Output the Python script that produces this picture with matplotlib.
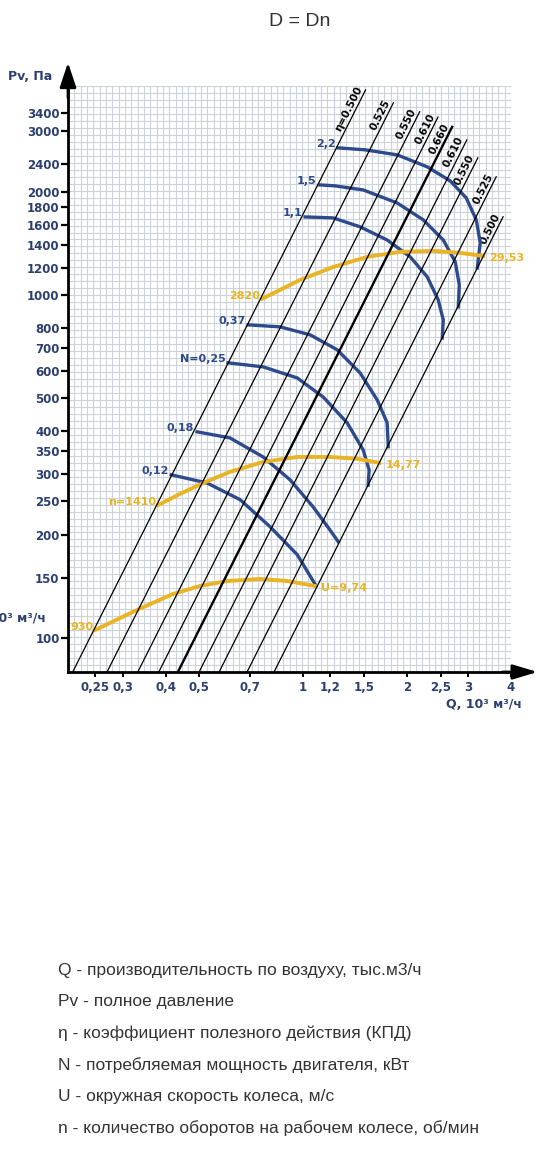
import numpy as np
import matplotlib.pyplot as plt

W, H = 551, 1176
NAVY = '#2c3f70'
BLUE = '#2d4a8c'
GOLD = '#e9b424'

# efficiency lines P = k*Q^2, given by Q at 100 Pa and the top end pressure
eta_labels = ['η=0.500', '0.525', '0.550', '0.610', '0.660', '0.610', '0.550', '0.525', '0.500']
eta_q100 = [0.241, 0.303, 0.372, 0.428, 0.486, 0.560, 0.640, 0.771, 0.923]
eta_ptop = [3960, 3630, 3420, 3300, 3090, 2830, 2510, 2210, 1690]

# motor power curves N, kW
n_labels = ['2,2', '1,5', '1,1', '0,37', 'N=0,25', '0,18', '0,12']
n22_q = [1.263, 1.512, 1.872, 2.288, 2.668, 2.967, 3.173, 3.258, 3.194]
n22_p = [2683, 2648, 2560, 2362, 2149, 1918, 1655, 1418, 1199]
n15_q = [1.113, 1.238, 1.493, 1.872, 2.228, 2.546, 2.758, 2.833, 2.814]
n15_p = [2093, 2079, 2023, 1854, 1655, 1446, 1248, 1070, 923]
n11_q = [1.013, 1.222, 1.463, 1.751, 2.042, 2.288, 2.462, 2.546, 2.529]
n11_p = [1688, 1677, 1579, 1446, 1291, 1129, 967, 846, 749]
n037_q = [0.693, 0.858, 1.048, 1.255, 1.463, 1.639, 1.751, 1.764]
n037_p = [818, 807, 765, 692, 592, 494, 424, 361]
n025_q = [0.606, 0.766, 0.961, 1.143, 1.341, 1.493, 1.553, 1.543]
n025_p = [634, 617, 573, 504, 424, 353, 309, 279]
n018_q = [0.493, 0.614, 0.766, 0.917, 1.069, 1.198, 1.263]
n018_p = [399, 383, 337, 289, 241, 206, 191]
n012_q = [0.415, 0.527, 0.657, 0.802, 0.961, 1.090]
n012_p = [299, 283, 253, 211, 175, 142]

# fan curves at n = 930 / 1410 / 2820 rpm
fan_start = ['930', 'n=1410', '2820']
fan_end = ['U=9,74', '14,77', '29,53']
f930_q = [0.250, 0.330, 0.420, 0.503, 0.602, 0.750, 0.899, 1.083]
f930_p = [105.5, 120.7, 134.4, 141.8, 146.6, 148.6, 146.6, 141.8]
f1410_q = [0.380, 0.440, 0.513, 0.614, 0.766, 0.961, 1.198, 1.434, 1.661]
f1410_p = [244, 263, 283, 305, 326, 337, 337, 333, 324]
f2820_q = [0.760, 0.980, 1.222, 1.533, 1.910, 2.381, 2.852, 3.325]
f2820_p = [974, 1106, 1206, 1291, 1335, 1344, 1326, 1299]

y_ticks = [100, 150, 200, 250, 300, 350, 400, 500, 600, 700, 800, 1000,
           1200, 1400, 1600, 1800, 2000, 2400, 3000, 3400]
x_ticks = [0.25, 0.3, 0.4, 0.5, 0.7, 1, 1.2, 1.5, 2, 2.5, 3, 4]
x_tick_labels = ['0,25', '0,3', '0,4', '0,5', '0,7', '1', '1,2', '1,5', '2', '2,5', '3', '4']

legend_lines = [
    'Q - производительность по воздуху, тыс.м3/ч',
    'Pv - полное давление',
    'η - коэффициент полезного действия (КПД)',
    'N - потребляемая мощность двигателя, кВт',
    'U - окружная скорость колеса, м/с',
    'n - количество оборотов на рабочем колесе, об/мин',
]

plt.rcParams['font.family'] = ['DejaVu Sans']
NARROW = ['Liberation Sans', 'DejaVu Sans']

fig = plt.figure(figsize=(W / 100, H / 100), dpi=100)
rect = [68 / W, 1 - 672 / H, 443 / W, 586 / H]

# graph paper background
bg = fig.add_axes(rect, zorder=0)
bg.set_xlim(0, 70)
bg.set_ylim(0, 84)
bg.set_xticks(np.arange(0, 71))
bg.set_yticks(np.arange(0, 85))
bg.grid(True, color='#cdd3dc', lw=0.8)
bg.tick_params(left=False, bottom=False, labelleft=False, labelbottom=False)
for s in bg.spines.values():
    s.set_visible(False)

ax = fig.add_axes(rect, zorder=1)
ax.patch.set_alpha(0)
ax.set_xscale('log')
ax.set_yscale('log')
ax.set_xlim(0.2084, 4.0)
ax.set_ylim(79.6, 4064)

# efficiency lines
for i, (lab, q100, ptop) in enumerate(zip(eta_labels, eta_q100, eta_ptop)):
    p = np.array([79.6, ptop])
    q = q100 * np.sqrt(p / 100)
    ax.plot(q, p, color='black', lw=1.7 if lab == '0.660' else 0.9, zorder=5)
    ax.annotate(lab, (q[1], p[1]), xytext=(-1, 0.5), textcoords='offset points',
                rotation=63.3, rotation_mode='anchor', ha='right', va='bottom',
                fontsize=7.5, fontweight='bold', color='black')

# power curves
n_curves = [(n22_q, n22_p), (n15_q, n15_p), (n11_q, n11_p), (n037_q, n037_p),
            (n025_q, n025_p), (n018_q, n018_p), (n012_q, n012_p)]
for lab, (q, p) in zip(n_labels, n_curves):
    ax.plot(q, p, color=BLUE, lw=2.4, solid_joinstyle='round', zorder=3)
    ax.annotate(lab, (q[0], p[0]), xytext=(-2, 3), textcoords='offset points',
                ha='right', va='center', fontsize=8, fontweight='bold', color=BLUE)

# fan curves
fans = [(f930_q, f930_p), (f1410_q, f1410_p), (f2820_q, f2820_p)]
for s_lab, e_lab, (q, p) in zip(fan_start, fan_end, fans):
    ax.plot(q, p, color=GOLD, lw=2.8, solid_joinstyle='round', zorder=4)
    ax.annotate(s_lab, (q[0], p[0]), xytext=(-1.5, 2), textcoords='offset points',
                ha='right', va='center', fontsize=8, fontweight='bold', color=GOLD)
    ax.annotate(e_lab, (q[-1], p[-1]), xytext=(4.5, -1.5), textcoords='offset points',
                ha='left', va='center', fontsize=8, fontweight='bold', color=GOLD)

# axes
for side in ['top', 'right']:
    ax.spines[side].set_visible(False)
for side in ['left', 'bottom']:
    ax.spines[side].set_linewidth(2)
ax.set_yticks(y_ticks)
ax.set_yticklabels([str(v) for v in y_ticks])
ax.set_xticks(x_ticks)
ax.set_xticklabels(x_tick_labels)
ax.minorticks_off()
ax.tick_params(axis='y', length=5, width=1.6, pad=1, labelsize=8.5, labelcolor=NAVY)
ax.tick_params(axis='x', length=3.5, width=1.4, pad=3, labelsize=8.5, labelcolor=NAVY)
for t in ax.get_xticklabels() + ax.get_yticklabels():
    t.set_fontweight('bold')

ax.annotate('', xy=(0, 1.04), xytext=(0, 0.98), xycoords='axes fraction',
            arrowprops=dict(arrowstyle='-|>,head_length=1.5,head_width=0.5',
                            color='black', lw=2, shrinkA=0, shrinkB=0))
ax.annotate('', xy=(1.06, 0), xytext=(0.98, 0), xycoords='axes fraction',
            arrowprops=dict(arrowstyle='-|>,head_length=1.5,head_width=0.45',
                            color='black', lw=2, shrinkA=0, shrinkB=0))

fig.text(30 / W, 1 - 76 / H, 'Pv, Па', ha='center', va='center',
         fontsize=9, fontweight='bold', color=NAVY)
fig.text(522 / W, 1 - 704 / H, 'Q, 10³ м³/ч', ha='right', va='center',
         fontsize=9, fontweight='bold', color=NAVY)
# partly outside the picture on the left, as in the original
fig.text(46 / W, 1 - 618 / H, 'Q, 10³ м³/ч', ha='right', va='center',
         fontsize=9, fontweight='bold', color=NAVY)

fig.text(300 / W, 1 - 22 / H, 'D = Dn', ha='center', va='center',
         fontsize=14, color='#333333', family=NARROW)

for i, line in enumerate(legend_lines):
    fig.text(58 / W, 1 - (970 + i * 31.6) / H, line, ha='left', va='center',
             fontsize=12.5, color='#333333', family=NARROW)

fig.savefig('out.png', dpi=100)
